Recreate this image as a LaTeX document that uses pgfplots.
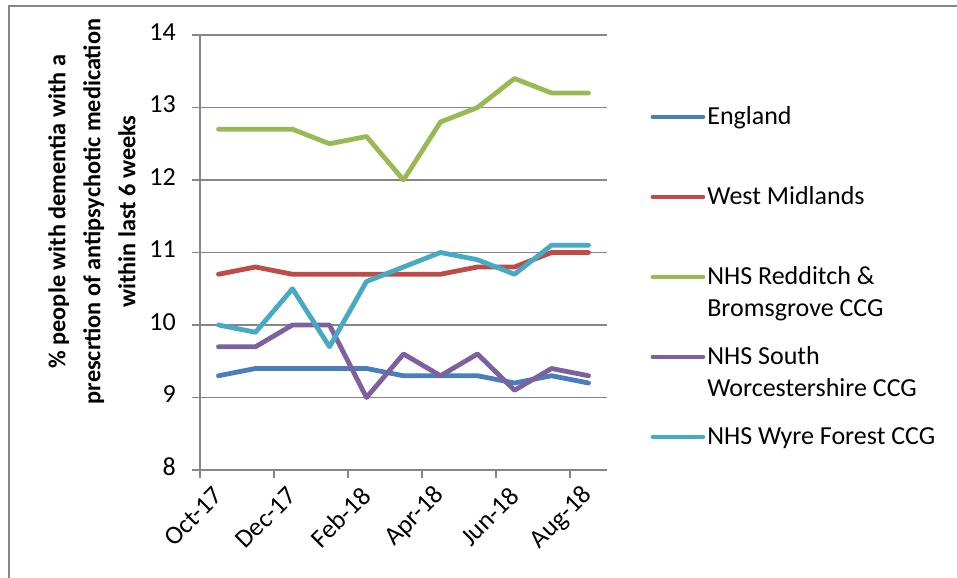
\documentclass[border=0pt]{standalone}
\usepackage{pgfplots}
\pgfplotsset{compat=1.18}
\usepackage{fontspec}
\setmainfont{Carlito}
\definecolor{cEng}{HTML}{4A7EBB}
\definecolor{cWM}{HTML}{BE4B48}
\definecolor{cRB}{HTML}{98B954}
\definecolor{cSW}{HTML}{7D60A0}
\definecolor{cWF}{HTML}{46AAC5}
\definecolor{gridgray}{HTML}{868686}
\begin{document}
\begin{tikzpicture}
\path[use as bounding box] (0,0) rectangle (717.75pt,433.5pt);
\draw[gridgray, line width=1.5pt] (6.75pt,0pt) -- (6.75pt,429pt) -- (717.75pt,429pt);
\begin{axis}[
  at={(150pt,81pt)}, anchor=south west,
  scale only axis, width=305.25pt, height=326.25pt,
  xmin=-0.5, xmax=10.5, ymin=8, ymax=14,
  ytick={8,9,...,14},
  xtick={-0.5,1.5,3.5,5.5,7.5,9.5},
  xticklabels={},
  extra x ticks={0,2,4,6,8,10},
  extra x tick labels={Oct-17,Dec-17,Feb-18,Apr-18,Jun-18,Aug-18},
  extra x tick style={major tick length=0pt},
  axis lines=left,
  axis line style={-, draw=gridgray, line width=1.1pt},
  tick align=outside,
  major tick length=6pt,
  tick style={draw=gridgray, line width=1.1pt},
  ymajorgrids,
  grid style={draw=gridgray, line width=1.1pt},
  /pgf/number format/assume math mode=true,
  tick label style={font=\fontsize{19.5pt}{24pt}\selectfont, text=black},
  yticklabel style={inner sep=0pt, xshift=-12pt, yshift=2.5pt},
  xticklabel style={inner sep=0pt, xshift=0pt, yshift=-16pt, rotate=45, anchor=east},
  ylabel={\% people with dementia with a\\prescrtion of antipsychotic medication\\within last 6 weeks},
  ylabel style={at={(axis description cs:-0.2654,0.594)}, rotate=0, anchor=center, align=center,
    font=\fontsize{18.2pt}{26.25pt}\selectfont\bfseries},
  every axis plot/.append style={line width=3.6pt, line cap=round, line join=round},
  legend image code/.code={\draw[#1, line cap=round] (0pt,6pt) -- (37.5pt,6pt);},
  legend style={at={(axis description cs:1.1069,0.8361)}, anchor=north west,
    draw=none, fill=none, inner sep=0pt, outer sep=0pt, row sep=0pt, column sep=1.5pt,
    font=\fontsize{19.5pt}{24pt}\selectfont,
    nodes={inner sep=0pt, outer sep=0pt, text height=14pt, text depth=46pt},
    cells={anchor=base west}},
]
\addplot[cEng] coordinates {(0,9.3)(1,9.4)(2,9.4)(3,9.4)(4,9.4)(5,9.3)(6,9.3)(7,9.3)(8,9.2)(9,9.3)(10,9.2)};
\addplot[cWM] coordinates {(0,10.7)(1,10.8)(2,10.7)(3,10.7)(4,10.7)(5,10.7)(6,10.7)(7,10.8)(8,10.8)(9,11.0)(10,11.0)};
\addplot[cRB] coordinates {(0,12.7)(1,12.7)(2,12.7)(3,12.5)(4,12.6)(5,12.0)(6,12.8)(7,13.0)(8,13.4)(9,13.2)(10,13.2)};
\addplot[cSW] coordinates {(0,9.7)(1,9.7)(2,10.0)(3,10.0)(4,9.0)(5,9.6)(6,9.3)(7,9.6)(8,9.1)(9,9.4)(10,9.3)};
\addplot[cWF] coordinates {(0,10.0)(1,9.9)(2,10.5)(3,9.7)(4,10.6)(5,10.8)(6,11.0)(7,10.9)(8,10.7)(9,11.1)(10,11.1)};
\legend{England,West Midlands,
  {\vtop{\hbox{NHS Redditch \&}\hbox{Bromsgrove CCG}}},
  {\vtop{\hbox{NHS South}\hbox{Worcestershire CCG}}},
  NHS Wyre Forest CCG}
\end{axis}
\end{tikzpicture}
\end{document}
